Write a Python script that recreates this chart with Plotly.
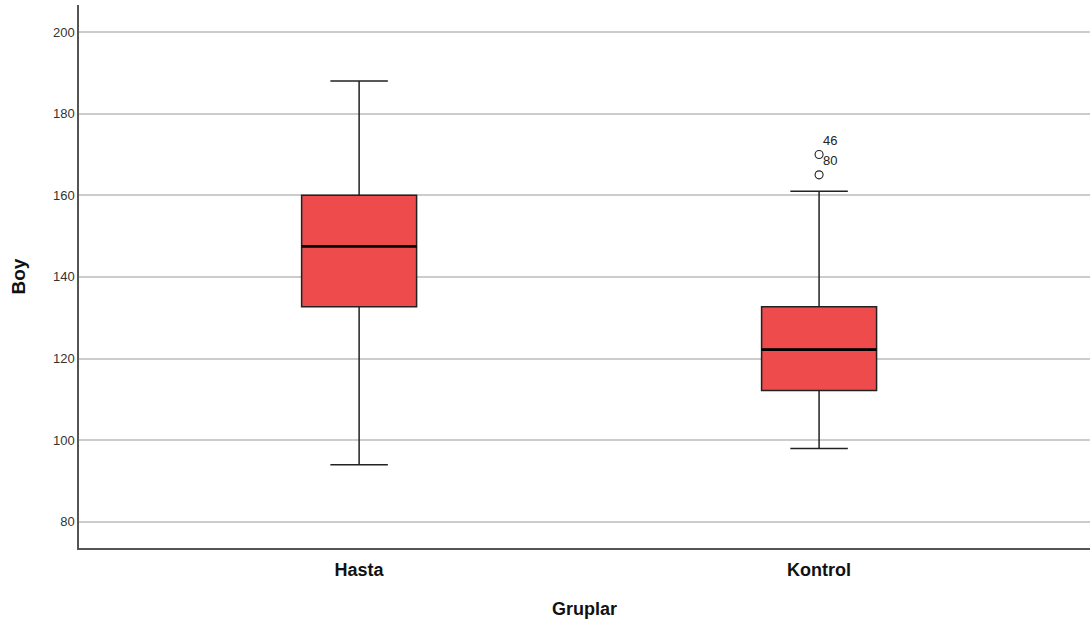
import plotly.graph_objects as go

# Box summary for Boy by group
groups = ["Hasta", "Kontrol"]
lower_whisker = [94, 98]
q1 = [132.7, 112.2]
median = [147.5, 122.2]
q3 = [160, 132.7]
upper_whisker = [188, 161]

# Outlying cases (Kontrol)
outlier_group = ["Kontrol", "Kontrol"]
outlier_values = [170, 165]
outlier_ids = ["46", "80"]

y_ticks = [80, 100, 120, 140, 160, 180, 200]

fill = "#EE4B4D"
edge = "#222222"
font = "Liberation Sans, Arial, sans-serif"

fig = go.Figure()

for i, g in enumerate(groups):
    fig.add_trace(go.Box(
        x=[g],
        q1=[q1[i]], median=[median[i]], q3=[q3[i]],
        lowerfence=[lower_whisker[i]], upperfence=[upper_whisker[i]],
        fillcolor=fill,
        line=dict(color=edge, width=1.5),
        whiskerwidth=0.5,
        width=0.25,
        boxpoints=False,
        hoverinfo="skip",
        showlegend=False,
    ))
    # heavier median line drawn over the box
    fig.add_trace(go.Scatter(
        x=[i - 0.125, i + 0.125], y=[median[i], median[i]],
        mode="lines", line=dict(color="black", width=2.8),
        xaxis="x2", hoverinfo="skip", showlegend=False,
    ))

fig.add_trace(go.Scatter(
    x=outlier_group, y=outlier_values, mode="markers",
    marker=dict(symbol="circle-open", size=8, color="#222222", line=dict(width=1.1)),
    hoverinfo="skip", showlegend=False,
))

# case labels beside the outliers
for v, lab in zip(outlier_values, outlier_ids):
    fig.add_annotation(
        x=1.004, y=v + 3.5, xref="x2", yref="y", text=lab, showarrow=False,
        xanchor="left", yanchor="middle",
        font=dict(family=font, size=13, color="#222222"),
    )

x_range = [-0.609, 1.589]

fig.update_layout(
    width=1090, height=626,
    margin=dict(l=79, r=0, t=5, b=78),
    paper_bgcolor="white", plot_bgcolor="white",
    font=dict(family=font, color="#222222"),
    xaxis=dict(
        type="category", range=x_range,
        showgrid=False, zeroline=False,
        showline=True, linecolor="#555555", linewidth=1.5,
        ticks="outside", ticklen=5, tickcolor="rgba(0,0,0,0)",
        tickfont=dict(size=18, color="#111111", family=font, weight="bold"),
        title=dict(text="<b>Gruplar</b>", font=dict(size=18, color="#111111", family=font), standoff=23),
    ),
    xaxis2=dict(
        overlaying="x", range=x_range, visible=False,
    ),
    yaxis=dict(
        range=[73.6, 206.6], tickvals=y_ticks,
        showgrid=True, gridcolor="#CCCCCC", gridwidth=1.5,
        zeroline=False,
        showline=True, linecolor="#555555", linewidth=1.5,
        ticks="", ticklen=0,
        tickfont=dict(size=13, color="#333333"),
        title=dict(text="<b>Boy</b>", font=dict(size=19, color="#111111"), standoff=22),
    ),
)

fig.write_html("out.html")
